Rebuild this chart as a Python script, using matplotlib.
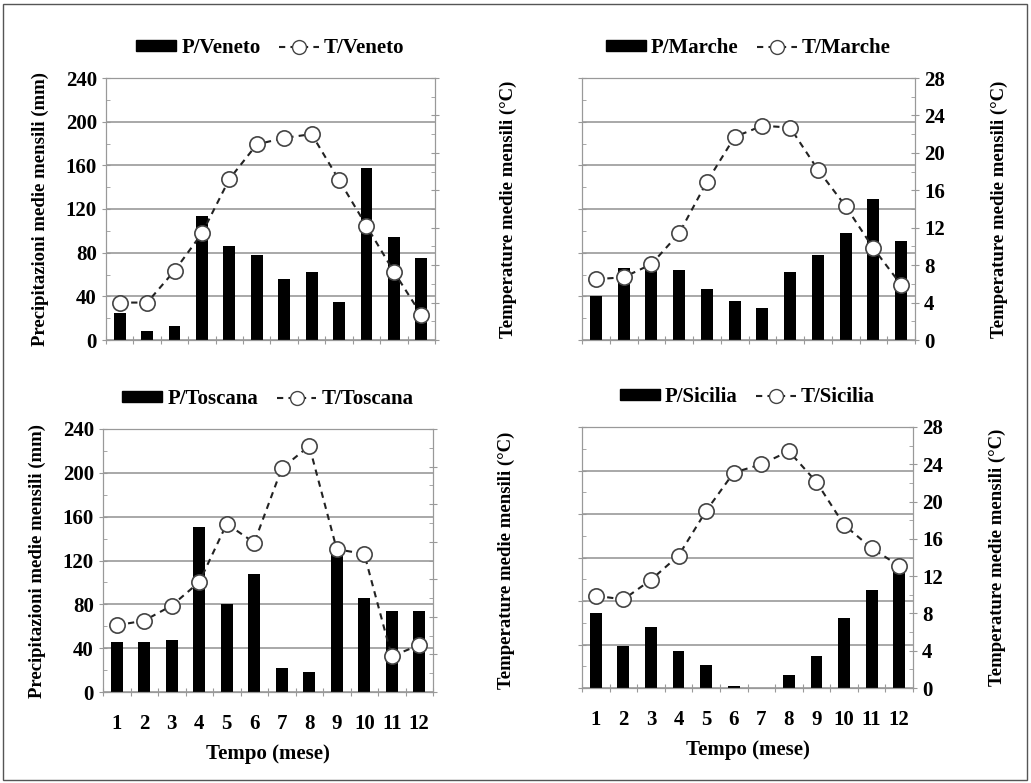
import numpy as np
import matplotlib.pyplot as plt
from matplotlib.ticker import MultipleLocator
from matplotlib.patches import Rectangle
from matplotlib.lines import Line2D
from matplotlib.patches import Patch

plt.rcParams['font.family'] = 'Liberation Serif'
plt.rcParams['font.weight'] = 'bold'

mesi = [str(m) for m in range(1, 13)]

p_veneto = [25, 8, 13, 114, 86, 78, 56, 62, 35, 158, 94, 75]
t_veneto = [4.0, 4.0, 7.4, 11.4, 17.2, 20.9, 21.6, 22.0, 17.1, 12.2, 7.3, 2.7]

p_marche = [40, 66, 66, 64, 47, 36, 29, 62, 78, 98, 129, 91]
t_marche = [6.5, 6.7, 8.1, 11.4, 16.9, 21.7, 22.9, 22.7, 18.2, 14.3, 9.8, 5.9]

p_toscana = [46, 46, 47, 151, 80, 108, 22, 18, 127, 86, 74, 74]
t_toscana = [7.1, 7.6, 9.2, 11.7, 17.9, 15.9, 23.8, 26.2, 15.2, 14.7, 3.8, 5.0]

p_sicilia = [69, 39, 56, 34, 21, 1.5, 0, 12, 29, 64, 90, 109]
t_sicilia = [9.9, 9.5, 11.6, 14.2, 19.0, 23.1, 24.0, 25.4, 22.1, 17.5, 15.0, 13.1]

W, H = 1031, 783
fig = plt.figure(figsize=(W / 100, H / 100), dpi=100)
fig.patches.append(Rectangle((3 / W, 3 / H), 1 - 7 / W, 1 - 7 / H, transform=fig.transFigure,
                             fill=False, edgecolor='#555555', linewidth=1))

grey = '#999999'
tratteggio = (0, (3, 2.5))


def pannello(rect, prec, temp, regione, lato, bottom):
    x0, y0, x1, y1 = rect
    ax = fig.add_axes([x0 / W, 1 - y1 / H, (x1 - x0) / W, (y1 - y0) / H])
    x = np.arange(len(mesi))
    ax.bar(x, prec, width=0.43, color='black', zorder=2)
    ax.set_xlim(-0.5, 11.5)
    ax.set_ylim(0, 240)
    ax.yaxis.set_major_locator(MultipleLocator(40))
    ax.yaxis.set_minor_locator(MultipleLocator(20))
    ax.grid(axis='y', color=grey, linewidth=1.2, zorder=0)
    ax.set_axisbelow(True)
    ax.set_xticks(np.arange(-0.5, 12, 1))
    ax.set_xticklabels([])
    ax.set_xticks(x, minor=True)
    ax.tick_params(axis='x', which='major', direction='inout', length=6, color=grey)
    ax.tick_params(axis='x', which='minor', length=0, labelsize=15, pad=16)
    if bottom:
        ax.set_xticklabels(mesi, minor=True)
        ax.set_xlabel('Tempo (mese)', fontsize=15, fontweight='bold', labelpad=7)
    ax.tick_params(axis='y', which='major', direction='inout', length=6, color=grey, labelsize=15)
    ax.tick_params(axis='y', which='minor', direction='in', length=3, color=grey)
    for s in ax.spines.values():
        s.set_color(grey)
    ax2 = ax.twinx()
    ax2.plot(x, temp, linestyle=tratteggio, color='#222222', linewidth=1.5, marker='o',
             markersize=11, markerfacecolor='white', markeredgecolor='#444444', markeredgewidth=1.2,
             zorder=3)
    ax2.set_ylim(0, 28)
    ax2.yaxis.set_major_locator(MultipleLocator(4))
    ax2.yaxis.set_minor_locator(MultipleLocator(2))
    ax2.tick_params(axis='y', which='major', direction='inout', length=6, color=grey, labelsize=15)
    ax2.tick_params(axis='y', which='minor', direction='in', length=3, color=grey)
    for s in ax2.spines.values():
        s.set_color(grey)
    ylab_t = 'Temperature medie mensili (°C)'
    if lato == 'sinistra':
        ax.set_ylabel('Precipitazioni medie mensili (mm)', fontsize=13.5, fontweight='bold', labelpad=12)
        ax2.set_yticklabels([])
        ax2.set_ylabel(ylab_t, fontsize=13.5, fontweight='bold', labelpad=40)
    else:
        ax.set_yticklabels([])
        ax2.set_ylabel(ylab_t, fontsize=13.5, fontweight='bold', labelpad=33)
    handles = [Patch(facecolor='black', edgecolor='black'),
               Line2D([], [], linestyle=tratteggio, color='#222222', marker='o', markersize=10,
                      markerfacecolor='white', markeredgecolor='#444444')]
    ax.legend(handles, ['P/' + regione, 'T/' + regione], loc='lower center', bbox_to_anchor=(0.5, 1.0),
              ncol=2, frameon=False, fontsize=15, handlelength=1.9, handleheight=0.45,
              handletextpad=0.25, columnspacing=0.9, borderaxespad=0.55)
    return ax


pannello((106, 78, 435, 340), p_veneto, t_veneto, 'Veneto', 'sinistra', False)
pannello((582, 78, 915, 340), p_marche, t_marche, 'Marche', 'destra', False)
pannello((103, 429, 433, 692), p_toscana, t_toscana, 'Toscana', 'sinistra', True)
pannello((582, 427, 913, 688), p_sicilia, t_sicilia, 'Sicilia', 'destra', True)

fig.savefig('out.png', dpi=100)
